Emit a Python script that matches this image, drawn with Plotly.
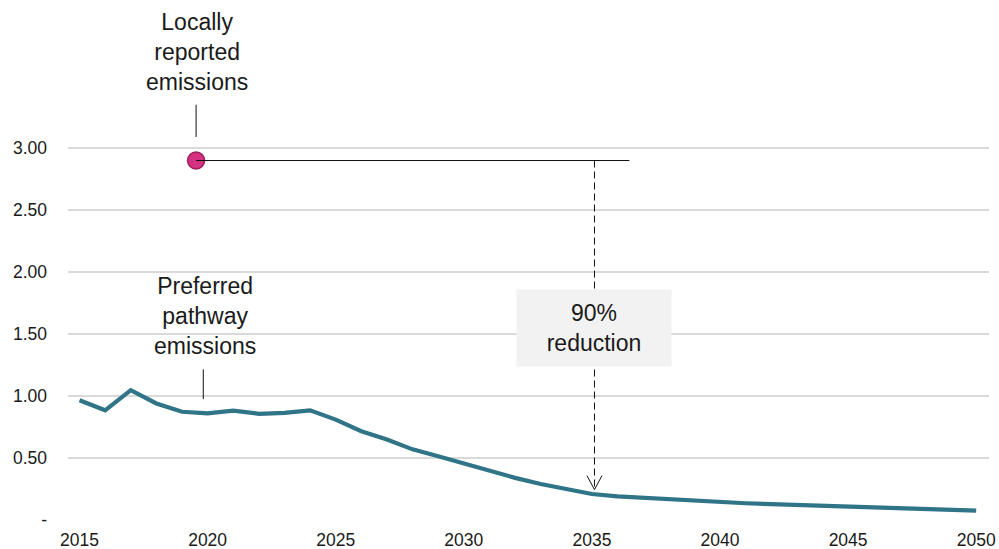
import plotly.graph_objects as go

# Preferred pathway emissions, 2015-2050
years = list(range(2015, 2051))
pathway = [0.966, 0.885, 1.047, 0.94, 0.873, 0.86, 0.883, 0.857, 0.865, 0.885,
           0.81, 0.716, 0.65, 0.57, 0.515, 0.455, 0.395, 0.34, 0.29, 0.25,
           0.21, 0.19, 0.178, 0.167, 0.157, 0.147, 0.135, 0.128, 0.122, 0.115,
           0.108, 0.102, 0.095, 0.09, 0.084, 0.075]

# Locally reported emissions point
reported_year = 2019.55
reported_value = 2.9

# Reduction marker
reduction_year = 2035.1
reduction_end_value = 0.245
reference_line_end = 2036.46
reduction_label = "90%<br>reduction"

y_tickvals = [0, 0.5, 1.0, 1.5, 2.0, 2.5, 3.0]
y_ticktext = ["-", "0.50", "1.00", "1.50", "2.00", "2.50", "3.00"]
x_tickvals = [2015, 2020, 2025, 2030, 2035, 2040, 2045, 2050]

W, H = 999, 549
ML, MR, MT, MB = 68, 10, 0, 28.5
X_RANGE = [2014.55, 2050.5]
Y_RANGE = [0, 4.195]
px_x = (X_RANGE[1] - X_RANGE[0]) / (W - ML - MR)
px_y = (Y_RANGE[1] - Y_RANGE[0]) / (H - MT - MB)

FONT = "Liberation Sans, Arial, sans-serif"
TEAL = "#2f7487"
INK = "#1a1a1a"
LABEL_SIZE = 23
TICK_SIZE = 17.5

fig = go.Figure()

fig.add_trace(go.Scatter(
    x=years, y=pathway, mode="lines",
    line=dict(color=TEAL, width=4.2),
    hoverinfo="skip", showlegend=False,
))

shapes = [
    # reference line from reported value across to the reduction marker
    dict(type="line", xref="x", yref="y", x0=reported_year, x1=reference_line_end,
         y0=reported_value, y1=reported_value, line=dict(color="#111", width=1)),
    # dashed drop line
    dict(type="line", xref="x", yref="y", x0=reduction_year, x1=reduction_year,
         y0=reported_value, y1=reduction_end_value,
         line=dict(color="#111", width=1, dash="7px,4px")),
    # open arrow head
    dict(type="path", xref="x", yref="y",
         path=(f"M {reduction_year - 7.5 * px_x},{reduction_end_value + 14 * px_y} "
               f"L {reduction_year},{reduction_end_value} "
               f"L {reduction_year + 7.5 * px_x},{reduction_end_value + 14 * px_y}"),
         line=dict(color="#111", width=1)),
    # leader lines for labels
    dict(type="line", xref="x", yref="y", x0=reported_year, x1=reported_year,
         y0=reported_value + 0.19, y1=reported_value + 0.45,
         line=dict(color="#111", width=1)),
    dict(type="line", xref="x", yref="y", x0=2019.83, x1=2019.83,
         y0=0.975, y1=1.215, line=dict(color="#111", width=1)),
]

fig.add_trace(go.Scatter(
    x=[reported_year], y=[reported_value], mode="markers",
    marker=dict(size=17, color="#d2327f", line=dict(color="#9e1f5c", width=1.5)),
    hoverinfo="skip", showlegend=False,
))

annotations = [
    dict(x=reported_year + 0.05, y=3.778, xref="x", yref="y",
         text="Locally<br>reported<br>emissions", showarrow=False,
         font=dict(family=FONT, size=LABEL_SIZE, color=INK), align="center"),
    dict(x=2019.9, y=1.649, xref="x", yref="y",
         text="Preferred<br>pathway<br>emissions", showarrow=False,
         font=dict(family=FONT, size=LABEL_SIZE, color=INK), align="center"),
    dict(x=reduction_year, y=1.552, xref="x", yref="y",
         text=reduction_label, showarrow=False, bgcolor="#f2f2f2",
         width=150, height=72, borderpad=2,
         font=dict(family=FONT, size=LABEL_SIZE, color=INK), align="center"),
]

fig.update_layout(
    width=W, height=H,
    margin=dict(l=ML, r=MR, t=MT, b=MB, pad=0),
    plot_bgcolor="white", paper_bgcolor="white",
    shapes=shapes, annotations=annotations,
    font=dict(family=FONT, size=TICK_SIZE, color=INK),
    showlegend=False,
)
fig.update_xaxes(
    range=X_RANGE, tickvals=x_tickvals, showgrid=False, zeroline=False,
    showline=False, ticks="", ticklabelstandoff=7,
    tickfont=dict(family=FONT, size=TICK_SIZE, color=INK),
)
fig.update_yaxes(
    range=Y_RANGE, tickvals=y_tickvals, ticktext=y_ticktext,
    showgrid=True, gridcolor="#d9d9d9", gridwidth=1.5, zeroline=False,
    showline=False, ticks="", ticklabelstandoff=20,
    tickfont=dict(family=FONT, size=TICK_SIZE, color=INK),
)

fig.write_html("out.html")
